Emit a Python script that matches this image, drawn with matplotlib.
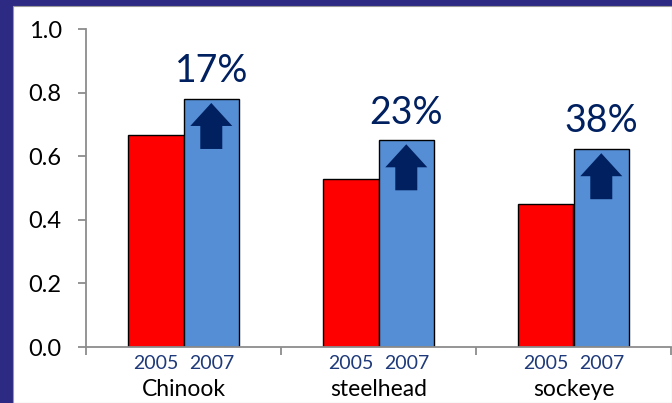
import matplotlib
matplotlib.use("Agg")
import matplotlib.pyplot as plt
from matplotlib.patches import Rectangle, FancyArrow
import numpy as np

plt.rcParams['font.family'] = ['Lato', 'DejaVu Sans']

# Data
species = ["Chinook", "steelhead", "sockeye"]
years = ["2005", "2007"]
values_2005 = [0.667, 0.528, 0.450]
values_2007 = [0.780, 0.650, 0.622]
increase_labels = ["17%", "23%", "38%"]
y_ticks = [0.0, 0.2, 0.4, 0.6, 0.8, 1.0]

navy_bg = "#2D2A84"
red = "#FF0000"
blue = "#558ED5"
dark_navy = "#002060"
label_navy = "#1F3A7A"

W, H = 672, 403
fig = plt.figure(figsize=(W / 100, H / 100), dpi=100)
fig.patch.set_facecolor(navy_bg)

# white slide panel with a thin grey edge
fig.patches.append(Rectangle((12.5 / W, 0), 1 - 12.5 / W, 1 - 5.5 / H,
                             transform=fig.transFigure, facecolor="white",
                             edgecolor="#9A9A9A", linewidth=0.8, zorder=-10))

ax = fig.add_axes([86 / W, (H - 347) / H, (671 - 86) / W, (347 - 29) / H])
ax.set_facecolor("none")
ax.set_zorder(5)

x = np.arange(len(species))
bw = 0.285
ax.bar(x - bw / 2, values_2005, bw, color=red, edgecolor="black", linewidth=1.0, zorder=2)
ax.bar(x + bw / 2, values_2007, bw, color=blue, edgecolor="black", linewidth=1.0, zorder=2)

ax.set_xlim(-0.5, len(species) - 0.5)
ax.set_ylim(0, 1.0)
ax.set_yticks(y_ticks)
ax.set_yticklabels([f"{v:.1f}" for v in y_ticks], fontsize=17, color="black")
ax.set_xticks(np.arange(-0.5, len(species), 1.0))
ax.set_xticklabels([])

for side in ("top", "right"):
    ax.spines[side].set_visible(False)
for side in ("left", "bottom"):
    ax.spines[side].set_color("#8C8C8C")
    ax.spines[side].set_linewidth(1.3)
ax.tick_params(axis="both", direction="out", length=5.5, width=1.3, color="#8C8C8C")
ax.tick_params(axis="y", pad=12)

# arrows inside the 2007 bars and percentage labels above them
ppx = (671 - 86) / 3.0   # pixels per x unit
ppy = 347 - 29            # pixels per y unit
for xi, v, lab in zip(x, values_2007, increase_labels):
    xc = xi + bw / 2
    top = v - 4 / ppy
    bottom = v - 50 / ppy
    ax.add_patch(FancyArrow(xc, bottom, 0, top - bottom, width=22 / ppx,
                            head_width=42 / ppx, head_length=23 / ppy,
                            length_includes_head=True, color=dark_navy,
                            linewidth=0, zorder=3))
    ax.annotate(lab, (xc, v), xytext=(0, 20), textcoords="offset points",
                ha="center", va="center", fontsize=27, color=dark_navy)

# year and species labels under the axis
xt = ax.get_xaxis_transform()
for xi, name in zip(x, species):
    for off, yr in zip((-bw / 2, bw / 2), years):
        ax.annotate(yr, (xi + off, 0), xycoords=xt, xytext=(0, -12),
                    textcoords="offset points", ha="center", va="center",
                    fontsize=14, color=label_navy, annotation_clip=False)
    ax.annotate(name, (xi, 0), xycoords=xt, xytext=(0, -30.5),
                textcoords="offset points", ha="center", va="center",
                fontsize=16.5, color="black", annotation_clip=False)

fig.savefig("out.png", dpi=100, facecolor=fig.get_facecolor())
